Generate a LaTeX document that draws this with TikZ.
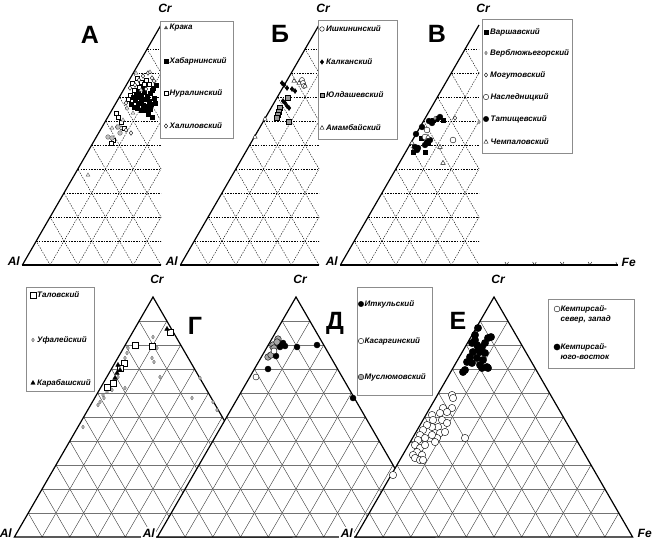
\documentclass[tikz,border=0pt]{standalone}
\usepackage{fontspec}
\usepackage{tikz}
\usetikzlibrary{plotmarks}
\newfontfamily\arialf{Liberation Sans}
\newcommand\lgfont{\arialf\bfseries\itshape\fontsize{8}{10}\selectfont}
\newcommand\axfont{\arialf\bfseries\itshape\fontsize{12}{14}\selectfont}
\newcommand\bigfont{\arialf\bfseries\fontsize{25}{28}\selectfont}
\tikzset{
  gridtop/.style={black, line width=0.4pt, dash pattern=on 1.5pt off 1.2pt},
  gridh/.style={black!55, line width=0.6pt},
  gridd/.style={black!85, line width=0.35pt},
  axline/.style={black, line width=1.2pt},
  lgbox/.style={draw=black!45, fill=white, line width=0.6pt},
  lgtext/.style={anchor=west, inner sep=0pt, font=\lgfont},
  axlab/.style={font=\axfont, inner sep=1.5pt},
  bigl/.style={font=\bigfont, inner sep=0pt},
  pts/.style={only marks, mark size=#1pt, line width=0.45pt},
  pts/.default=1.7,
}
\begin{document}
\begin{tikzpicture}[x=1pt,y=-1pt]
\useasboundingbox (0,0) rectangle (652,541);
\fill[white] (0,0) rectangle (652,541);

% upper row: half triangles, dashed grid
\foreach \ax/\nm in {161/A, 319/B, 479/V} {
  \begin{scope}
    \clip ({\ax-140},20) rectangle (\ax,266);
    \foreach \i in {1,...,9} {
      \pgfmathsetmacro\yy{25+24*\i}
      \pgfmathsetmacro\dx{13.86*\i}
      \draw[gridtop] ({\ax-\dx},\yy) -- ({\ax+\dx},\yy);
      \draw[gridtop] ({\ax-138.6+2*\dx},265) -- ({\ax+\dx},\yy);
      \draw[gridtop] ({\ax+138.6-2*\dx},265) -- ({\ax-\dx},\yy);
    }
  \end{scope}
  \draw[axline] ({\ax-138.6},265) -- (\ax,25);
  \node[axlab, anchor=base east] (al\nm) at ({\ax-139.5},265) {Al};
  \node[axlab, anchor=base] (cr\nm) at ({\ax+4},12) {Cr};
}
\draw[axline] (22.4,265) -- (161,265);
\draw[axline] (180.4,265) -- (319,265);
\draw[axline] (340.4,265) -- (617.6,265);
\foreach \k in {1,...,4}
  \draw[line width=0.4pt] ({479+27.72*\k-1.8},262) -- ({479+27.72*\k},265) -- ({479+27.72*\k+1.8},262);
\draw[line width=0.4pt] (615.8,262) -- (617.6,265);
\node[axlab, anchor=base west] (feV) at (620,266) {Fe};

\node[bigl] (tA) at (90,35) {А};
\node[bigl] (tB) at (280,34) {Б};
\node[bigl] (tV) at (437,34) {В};

% A
\draw plot[pts=2.2, mark=square*, mark options={fill=white}] coordinates {
  (137,78)(141,82)(146,80)(139,87)(144,84)(134,90)(130,95)(128,99)(116,113)(118,117)
  (121,122)(113,140)(111,143)(124,128)(149,84)(132,83)};
\draw plot[pts=2.1, mark=square*] coordinates {
  (138,92)(141,95)(144,92)(147,96)(150,93)(152,90)(154,98)(149,101)(145,99)(141,100)
  (138,103)(135,100)(133,97)(143,105)(147,106)(151,104)(155,103)(137,108)(141,110)
  (146,110)(150,109)(153,88)(156,85)(131,104)(134,107)(139,97)(148,114)(152,117)(144,88)(136,95)};
\draw plot[pts=2.3, mark=diamond*, mark options={fill=white}] coordinates {
  (152,78)(148,73)(143,76)(135,85)(130,88)(126,103)(131,133)(126,130)(121,128)(117,127)
  (154,81)(146,89)(139,80)};
\draw[black!70] plot[pts=2.1, mark=triangle*, mark options={fill=white}] coordinates {
  (150,72)(136,73)(112,128)(133,113)(88,175)(123,120)(127,108)(141,90)};
\draw[black!60] plot[pts=2.3, mark=*, mark options={fill=black!25}] coordinates {
  (118,127)(108,137)(120,133)(112,138)};

% Б
\draw plot[pts=2.5, mark=*, mark options={fill=white}] coordinates {(302,80)(303,83)(304,86)};
\draw plot[pts=2.5, mark=diamond*] coordinates {
  (282,83)(284,85)(287,88)(292,89)(295,91)(283,101)(285,103)(287,106)(289,108)};
\draw plot[pts=2.4, mark=square*, mark options={fill=black!40}] coordinates {
  (288,98)(280,108)(279,112)(278,115)(277,118)(289,122)};
\draw plot[pts=2.5, mark=triangle*, mark options={fill=white}] coordinates {
  (294,81)(305,86)(299,83)(265,119)(255,137)};

% В
\draw plot[pts=2.9, mark=*] coordinates {
  (422,127)(416,134)(429,121)(440,117)(437,119)(415,147)(418,148)(427,142)(430,140)
  (417,150)(425,145)(432,123)};
\draw plot[pts=2.3, mark=square*] coordinates {
  (433,120)(443,120)(425,152)(413,152)(428,143)(421,138)};
\draw plot[pts=2.9, mark=*, mark options={fill=white}] coordinates {(427,130)(453,140)(425,137)};
\draw plot[pts=2.3, mark=diamond*, mark options={fill=white}] coordinates {(455,118)};
\draw[black!60] plot[pts=1.8, mark=diamond*, mark options={fill=black!30}] coordinates {(435,118)(479,122)};
\draw plot[pts=2.6, mark=triangle*, mark options={fill=white}] coordinates {
  (440,147)(443,163)(428,137)(412,143)};

% lower row: whole triangles, solid grid
\foreach \ax/\nm in {153/G, 296/D, 494/E} {
  \fill[white] ({\ax-138.6},537) -- (\ax,297) -- ({\ax+138.6},537) -- cycle;
  \foreach \i in {1,...,9} {
    \pgfmathsetmacro\yy{297+24*\i}
    \pgfmathsetmacro\dx{13.86*\i}
    \draw[gridh] ({\ax-\dx},\yy) -- ({\ax+\dx},\yy);
    \draw[gridd] ({\ax-138.6+2*\dx},537) -- ({\ax+\dx},\yy);
    \draw[gridd] ({\ax+138.6-2*\dx},537) -- ({\ax-\dx},\yy);
  }
  \draw[axline, line join=miter] ({\ax-138.6},537) -- (\ax,297) -- ({\ax+138.6},537) -- cycle;
  \node[axlab, anchor=base east, fill=white] (al\nm) at ({\ax-139.5},537) {Al};
  \node[axlab, anchor=base] (cr\nm) at ({\ax+4},283) {Cr};
}
\node[axlab, anchor=base west] (feE) at (636,537) {Fe};

\node[bigl] (tG) at (195,326) {Г};
\node[bigl] (tD) at (335,323) {Д};
\node[bigl] (tE) at (458,321) {Е};

% Г
\draw[black!60] plot[pts=1.9, mark=diamond*, mark options={fill=black!25}] coordinates {
  (153,337)(157,348)(152,358)(154,362)(160,377)(128,348)(127,353)(125,358)(122,370)
  (118,377)(115,382)(125,388)(110,387)(107,392)(103,395)(100,402)(98,405)(83,427)
  (192,398)(200,378)(217,410)(213,402)(104,398)(112,390)};
\draw plot[pts=3, mark=square*, mark options={fill=white}] coordinates {
  (170,332)(135,345)(152,346)(124,363)(120,368)(107,387)(113,383)};
\draw plot[pts=2.6, mark=triangle*] coordinates {
  (167,329)(118,365)(120,370)(117,373)(115,378)};

% Д
\draw plot[pts=3.3, mark=*, mark options={fill=black!35}] coordinates {
  (278,339)(273,345)(274,348)(268,357)(271,355)(277,342)};
\draw plot[pts=3, mark=*] coordinates {
  (283,343)(282,345)(280,347)(297,347)(317,345)(276,356)(268,369)(353,398)(285,346)};
\draw plot[pts=3, mark=*, mark options={fill=white}] coordinates {(256,377)(274,351)};

% Е
\draw plot[pts=3.7, mark=*, mark options={fill=white}] coordinates {
  (452,395)(453,398)(452,408)(443,408)(447,412)(440,413)(432,415)(433,420)(442,420)
  (447,423)(438,427)(432,427)(427,425)(423,430)(420,435)(440,433)(445,432)(437,438)
  (432,435)(425,438)(418,440)(415,445)(420,448)(425,445)(435,442)(417,452)(413,455)
  (422,455)(415,458)(420,460)(423,460)(465,438)(393,475)};
\draw plot[pts=3.7, mark=*] coordinates {
  (478,328)(475,335)(488,338)(491,337)(472,343)(477,345)(482,347)(473,352)(480,352)
  (485,353)(470,357)(477,358)(483,360)(467,362)(472,363)(480,365)(487,367)(488,368)
  (465,370)(482,368)(463,372)(478,350)(475,340)(485,343)};

% legends
\draw[lgbox] (160,21) rectangle (233,138);
\draw[black!70] plot[pts=1.9, mark=triangle*] coordinates {(166,28)};
\node[lgtext] (lgA1) at (169.5,28) {Крака};
\draw plot[pts=1.9, mark=square*] coordinates {(166,61)};
\node[lgtext] (lgA2) at (169.5,61) {Хабарнинский};
\draw plot[pts=2.2, mark=square*, mark options={fill=white}] coordinates {(166,93)};
\node[lgtext] (lgA3) at (169.5,93) {Нуралинский};
\draw plot[pts=2.2, mark=diamond*, mark options={fill=white}] coordinates {(166,126)};
\node[lgtext] (lgA4) at (169.5,126) {Халиловский};

\draw[lgbox] (318,20) rectangle (397,139);
\draw plot[pts=2.3, mark=*, mark options={fill=white}] coordinates {(322,29)};
\node[lgtext] (lgB1) at (326,29) {Ишкининский};
\draw plot[pts=2.3, mark=diamond*] coordinates {(322,62)};
\node[lgtext] (lgB2) at (326,62) {Калканский};
\draw plot[pts=2.2, mark=square*, mark options={fill=black!40}] coordinates {(322,95)};
\node[lgtext] (lgB3) at (326,95) {Юлдашевский};
\draw plot[pts=2.4, mark=triangle*, mark options={fill=white}] coordinates {(322,128)};
\node[lgtext] (lgB4) at (326,128) {Амамбайский};

\draw[lgbox] (482,19) rectangle (572,153);
\draw plot[pts=2, mark=square*] coordinates {(486,32)};
\node[lgtext] (lgV1) at (490,32) {Варшавский};
\draw[black!60] plot[pts=1.8, mark=diamond*, mark options={fill=black!30}] coordinates {(486,53)};
\node[lgtext] (lgV2) at (490,53) {Верблюжьегорский};
\draw plot[pts=2.1, mark=diamond*, mark options={fill=white}] coordinates {(486,75)};
\node[lgtext] (lgV3) at (490,75) {Могутовский};
\draw plot[pts=2.7, mark=*, mark options={fill=white}] coordinates {(486,97)};
\node[lgtext] (lgV4) at (490.5,97) {Наследницкий};
\draw plot[pts=2.7, mark=*] coordinates {(486,119)};
\node[lgtext] (lgV5) at (490.5,119) {Татищевский};
\draw plot[pts=2.4, mark=triangle*, mark options={fill=white}] coordinates {(486,142)};
\node[lgtext] (lgV6) at (490.5,142) {Чемпаловский};

\draw[lgbox] (26,287) rectangle (94,391);
\draw plot[pts=2.7, mark=square*, mark options={fill=white}] coordinates {(33,295)};
\node[lgtext] (lgG1) at (37,295) {Таловский};
\draw[black!60] plot[pts=1.9, mark=diamond*, mark options={fill=black!25}] coordinates {(33,340)};
\node[lgtext] (lgG2) at (37,340) {Уфалейский};
\draw plot[pts=2.5, mark=triangle*] coordinates {(33,383)};
\node[lgtext] (lgG3) at (37,383) {Карабашский};

\draw[lgbox] (357,287) rectangle (432,395);
\draw plot[pts=2.7, mark=*] coordinates {(361,304)};
\node[lgtext] (lgD1) at (364.5,304) {Иткульский};
\draw plot[pts=2.7, mark=*, mark options={fill=white}] coordinates {(361,341)};
\node[lgtext] (lgD2) at (364.5,341) {Касаргинский};
\draw plot[pts=2.8, mark=*, mark options={fill=black!35}] coordinates {(361,377)};
\node[lgtext] (lgD3) at (364.5,377) {Муслюмовский};

\draw[lgbox] (548,299) rectangle (634,368);
\draw plot[pts=2.9, mark=*, mark options={fill=white}] coordinates {(557,309)};
\node[lgtext, align=left] (lgE1) at (560.5,314) {Кемпирсай-\\ север, запад};
\draw plot[pts=3.1, mark=*] coordinates {(557,347)};
\node[lgtext, align=left] (lgE2) at (560.5,352) {Кемпирсай-\\ юго-восток};
\end{tikzpicture}
\end{document}
